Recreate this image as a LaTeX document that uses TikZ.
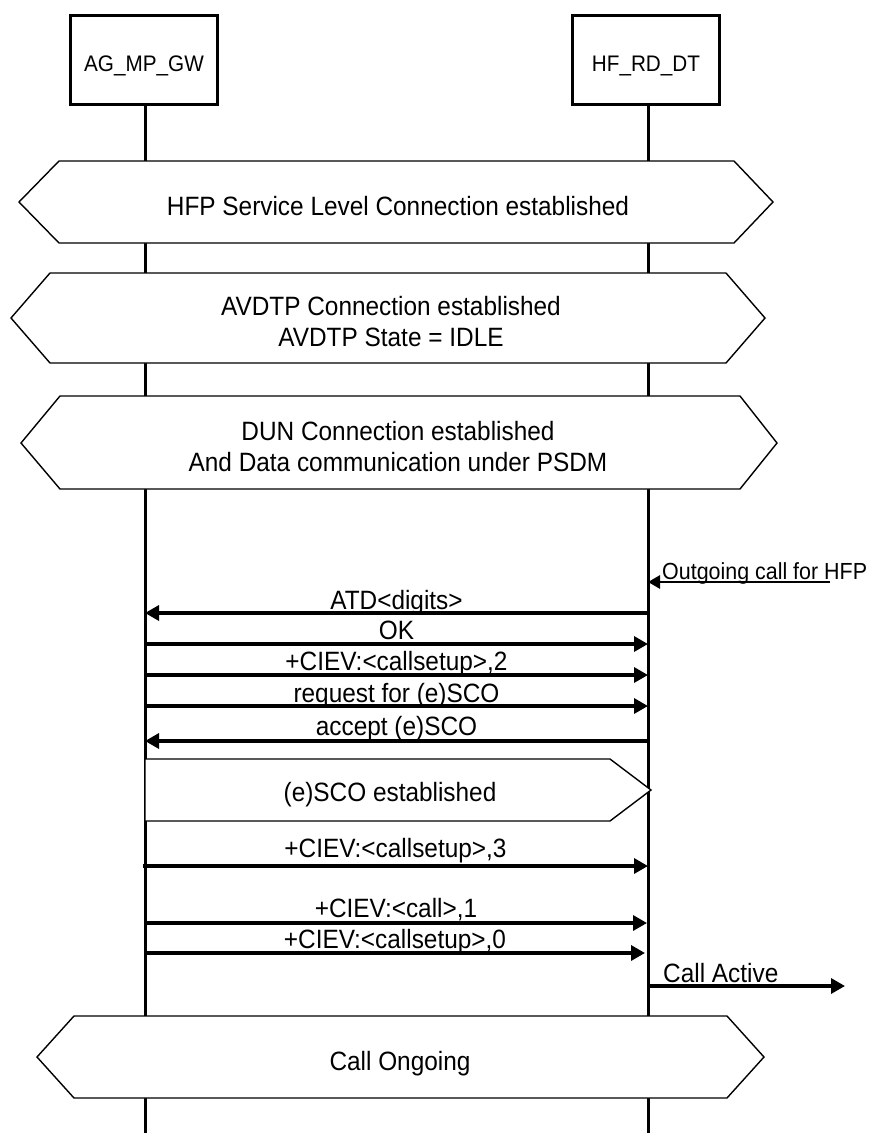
\documentclass[tikz,border=0pt]{standalone}
\usepackage{fontspec}
\setmainfont{Liberation Sans}[FakeStretch=0.92]
\usetikzlibrary{arrows.meta}
\begin{document}
\begin{tikzpicture}[x=1pt,y=-1pt,
  actor/.style={draw,line width=3pt,minimum width=147pt,minimum height=89pt,
    inner sep=0pt,text height=22pt,text depth=0pt,font=\fontsize{22.5}{27}\selectfont},
  lifeline/.style={line width=3pt},
  bar/.style={draw,line width=1.4pt,fill=white,line join=miter},
  bartext/.style={align=center,font=\fontsize{26.5}{31}\selectfont,inner sep=0pt},
  msg/.style={line width=3.3pt,-{Triangle[length=14pt,width=15pt]}},
  lbl/.style={font=\fontsize{26.5}{31}\selectfont,inner sep=0pt,anchor=base},
]
\useasboundingbox (0,0) rectangle (873,1133);

% instances
\node[actor] (ag) at (144,60) {AG\_MP\_GW};
\node[actor] (hf) at (646,60) {HF\_RD\_DT};
\coordinate (agEnd) at (145,1133);
\coordinate (hfEnd) at (648,1133);
\draw[lifeline] (agEnd |- ag.south) -- (agEnd);
\draw[lifeline] (hfEnd |- hf.south) -- (hfEnd);

% condition bars
\path[bar] (19,202) -- (59,161) -- (734,161) -- (773,202) -- (734,243) -- (59,243) -- cycle;
\node[bartext,anchor=base] (hfp) at (398,215) {HFP Service Level Connection established};

\path[bar] (11,318) -- (50,273) -- (726,273) -- (765,318) -- (726,363) -- (50,363) -- cycle;
\node[bartext] (avdtp) at (391,322) {AVDTP Connection established\\AVDTP State = IDLE};

\path[bar] (21,443) -- (60,396) -- (740,396) -- (777,443) -- (740,489) -- (60,489) -- cycle;
\node[bartext] (dun) at (398,447) {DUN Connection established\\And Data communication under PSDM};

% external trigger
\coordinate (outSrc) at (830,582);
\coordinate (hfOut) at (648,582);
\draw[line width=2.8pt,-{Triangle[length=12pt,width=13pt]}] (outSrc) -- (hfOut);
\node[lbl,anchor=base west,font=\fontsize{23.3}{28}\selectfont] (outLbl) at (662,579) {Outgoing call for HFP};

% messages
\coordinate (a1) at (145,613); \coordinate (b1) at (648,613);
\draw[msg] (b1) -- (a1) node[lbl,midway,yshift=4pt] (m1) {ATD<digits>};
\coordinate (a2) at (145,644); \coordinate (b2) at (648,644);
\draw[msg] (a2) -- (b2) node[lbl,midway,yshift=5pt] (m2) {OK};
\coordinate (a3) at (145,675); \coordinate (b3) at (648,675);
\draw[msg] (a3) -- (b3) node[lbl,midway,yshift=5pt] (m3) {+CIEV:<callsetup>,2};
\coordinate (a4) at (145,706); \coordinate (b4) at (648,706);
\draw[msg] (a4) -- (b4) node[lbl,midway,yshift=4pt] (m4) {request for (e)SCO};
\coordinate (a5) at (145,741); \coordinate (b5) at (648,741);
\draw[msg] (b5) -- (a5) node[lbl,midway,yshift=6pt] (m5) {accept (e)SCO};

% local condition
\path[bar] (145,759) -- (610,759) -- (651,790) -- (610,821) -- (145,821) -- cycle;
\node[bartext,anchor=base] (esco) at (390,801) {(e)SCO established};

\coordinate (a6) at (143,866); \coordinate (b6) at (648,866);
\draw[msg] (a6) -- (b6) node[lbl,midway,yshift=9pt] (m6) {+CIEV:<callsetup>,3};
\coordinate (a7) at (145,923); \coordinate (b7) at (647,923);
\draw[msg] (a7) -- (b7) node[lbl,midway,yshift=6pt] (m7) {+CIEV:<call>,1};
\coordinate (a8) at (145,953); \coordinate (b8) at (645,953);
\draw[msg] (a8) -- (b8) node[lbl,midway,yshift=5pt] (m8) {+CIEV:<callsetup>,0};

% call state
\coordinate (hfAct) at (648,986);
\coordinate (actDst) at (845,986);
\draw[msg] (hfAct) -- (actDst);
\node[lbl,anchor=base west] (actLbl) at (663,982) {Call Active};

\path[bar] (37,1057) -- (74,1016) -- (727,1016) -- (764,1057) -- (727,1098) -- (74,1098) -- cycle;
\node[bartext,anchor=base] (ongoing) at (400,1070) {Call Ongoing};
\end{tikzpicture}
\end{document}
